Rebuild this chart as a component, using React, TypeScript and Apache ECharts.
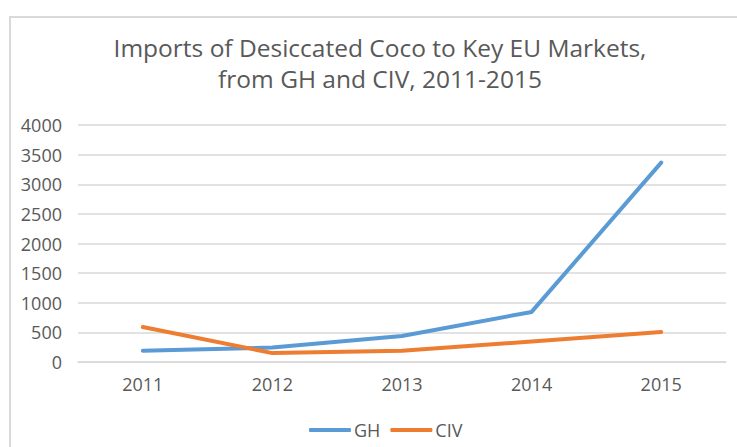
import React, { useEffect, useRef } from "react";
import * as echarts from "echarts";

const categories = ["2011", "2012", "2013", "2014", "2015"];
const ghValues = [190, 245, 440, 845, 3365];
const civValues = [590, 150, 190, 345, 505];
const yMin = 0;
const yMax = 4000;
const yInterval = 500;

const FONT = "'Open Sans', sans-serif";
const TEXT_COLOR = "#595959";

export default function App() {
  const ref = useRef<HTMLDivElement>(null);
  useEffect(() => {
    if (!ref.current) return;
    const chart = echarts.init(ref.current, undefined, { renderer: "svg" });
    chart.setOption({
      animation: false,
      backgroundColor: "#ffffff",
      title: {
        text: "Imports of Desiccated Coco to Key EU Markets,\nfrom GH and CIV, 2011-2015",
        left: 375,
        top: 27,
        textAlign: "center",
        textStyle: {
          fontFamily: FONT,
          fontSize: 24.5,
          fontWeight: "normal",
          color: TEXT_COLOR,
          lineHeight: 31,
        },
      },
      graphic: [
        {
          type: "rect",
          shape: { x: 10, y: 17, width: 800, height: 500 },
          style: { fill: "none", stroke: "#d9d9d9", lineWidth: 2 },
          silent: true,
        },
      ],
      legend: {
        left: 304,
        top: 416,
        itemWidth: 42,
        itemHeight: 4,
        itemGap: 10,
        icon: "roundRect",
        textStyle: { fontFamily: FONT, fontSize: 18, color: TEXT_COLOR, padding: [0, 0, 0, -2] },
        data: ["GH", "CIV"],
      },
      grid: {
        left: 78,
        right: 11,
        top: 125,
        bottom: 85,
        containLabel: false,
        outerBoundsMode: "none",
      },
      xAxis: {
        type: "category",
        data: categories,
        boundaryGap: true,
        axisLine: { show: true, lineStyle: { color: "#d9d9d9", width: 1.5 } },
        axisTick: { show: false },
        axisLabel: { fontFamily: FONT, fontSize: 18, color: TEXT_COLOR, margin: 13 },
      },
      yAxis: {
        type: "value",
        min: yMin,
        max: yMax,
        interval: yInterval,
        axisLine: { show: false },
        axisTick: { show: false },
        axisLabel: {
          fontFamily: FONT,
          fontSize: 18,
          color: TEXT_COLOR,
          margin: 16,
          formatter: (v: number) => String(v),
        },
        splitLine: { lineStyle: { color: "#d9d9d9", width: 1.5 } },
      },
      series: [
        {
          name: "GH",
          type: "line",
          data: ghValues,
          symbol: "none",
          itemStyle: { color: "#5b9bd5" },
          lineStyle: { color: "#5b9bd5", width: 4, cap: "round", join: "round" },
        },
        {
          name: "CIV",
          type: "line",
          data: civValues,
          symbol: "none",
          itemStyle: { color: "#ed7d31" },
          lineStyle: { color: "#ed7d31", width: 4, cap: "round", join: "round" },
        },
      ],
    });
    return () => chart.dispose();
  }, []);
  return (
    <div
      ref={ref}
      style={{ position: "fixed", left: 0, top: 0, width: 737, height: 447, background: "#fff" }}
    />
  );
}
